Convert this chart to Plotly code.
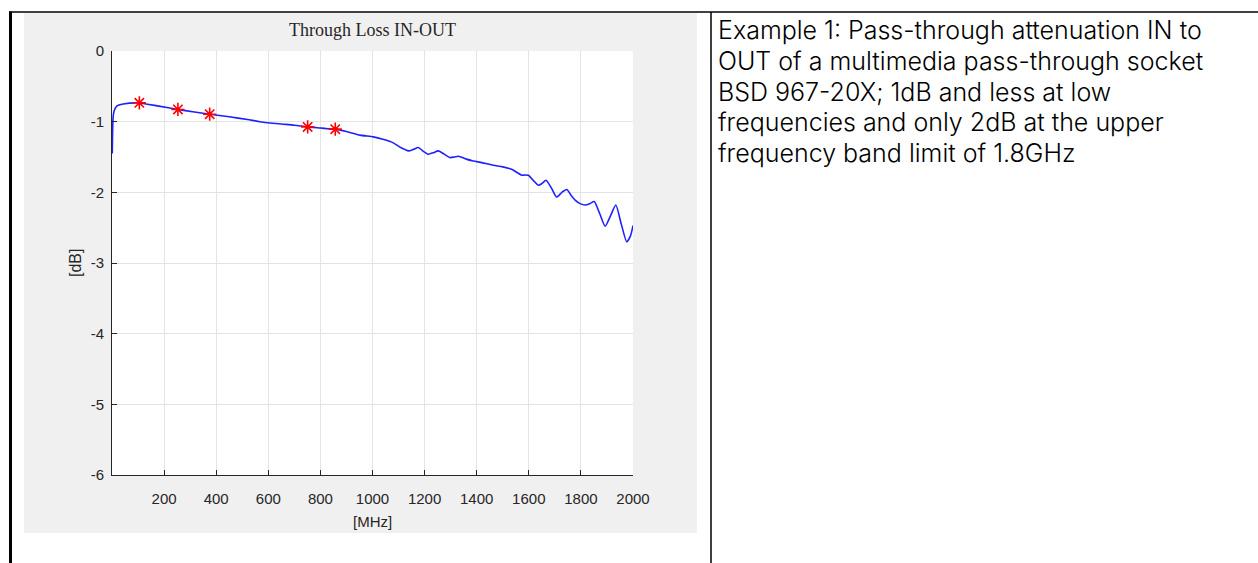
import plotly.graph_objects as go

# ---------------- data ----------------
freq_mhz = [1, 2, 4, 8, 18, 43, 105, 180, 253, 310, 375, 450, 520, 568, 640, 700, 751,
            800, 830, 857, 900, 952, 1003, 1040, 1080, 1110, 1138, 1158, 1176, 1195, 1214,
            1233, 1253, 1275, 1298, 1315, 1330, 1360, 1387, 1420, 1464, 1500, 1534, 1555,
            1573, 1585, 1598, 1617, 1637, 1652, 1666, 1687, 1707, 1727, 1746, 1762, 1778,
            1797, 1816, 1834, 1851, 1872, 1893, 1914, 1934, 1955, 1976, 1990, 2000]
loss_db = [-1.45, -1.20, -0.95, -0.85, -0.78, -0.75, -0.735, -0.78, -0.827, -0.86, -0.894,
           -0.93, -0.97, -1.00, -1.03, -1.05, -1.074, -1.09, -1.10, -1.106, -1.14, -1.19,
           -1.215, -1.25, -1.30, -1.37, -1.414, -1.39, -1.366, -1.42, -1.46, -1.44, -1.414,
           -1.46, -1.508, -1.50, -1.49, -1.53, -1.556, -1.58, -1.617, -1.64, -1.674, -1.72,
           -1.759, -1.755, -1.759, -1.83, -1.90, -1.87, -1.83, -1.94, -2.066, -2.00, -1.96,
           -2.04, -2.11, -2.16, -2.18, -2.16, -2.13, -2.30, -2.48, -2.33, -2.18, -2.45,
           -2.70, -2.62, -2.47]

marker_mhz = [105, 253, 375, 751, 857]
marker_db = [-0.733, -0.827, -0.894, -1.074, -1.106]

x_ticks = [200, 400, 600, 800, 1000, 1200, 1400, 1600, 1800, 2000]
y_ticks = [0, -1, -2, -3, -4, -5, -6]

title_text = "Through Loss IN-OUT"
x_label = "[MHz]"
y_label = "[dB]"
caption_lines = [
    "Example 1: Pass-through attenuation IN to",
    "OUT of a multimedia pass-through socket",
    "BSD 967-20X; 1dB and less at low",
    "frequencies and only 2dB at the upper",
    "frequency band limit of 1.8GHz",
]

# ---------------- layout geometry (pixels) ----------------
W, H = 1258, 563
PL, PR, PT, PB = 112, 633, 51, 475   # plot area edges


def px2x(px):
    return (px - PL) / (PR - PL)


def px2y(py):
    return (PB - py) / (PB - PT)


fig = go.Figure()

fig.add_trace(go.Scatter(
    x=freq_mhz, y=loss_db, mode="lines",
    line=dict(color="#2020ff", width=1.6, shape="spline", smoothing=0.6),
    showlegend=False, hoverinfo="skip"))

fig.add_trace(go.Scatter(
    x=marker_mhz, y=marker_db, mode="markers",
    marker=dict(symbol="asterisk-open", size=11, color="#ff0000",
                line=dict(color="#ff0000", width=1.6)),
    showlegend=False, hoverinfo="skip"))

shapes = [
    # grey figure background
    dict(type="rect", xref="paper", yref="paper", layer="below",
         x0=px2x(24), x1=px2x(697), y0=px2y(533), y1=px2y(13),
         fillcolor="#f0f0f0", line=dict(width=0)),
    # white axes background
    dict(type="rect", xref="paper", yref="paper", layer="below",
         x0=0, x1=1, y0=0, y1=1, fillcolor="#ffffff", line=dict(width=0)),
    # table borders
    dict(type="line", xref="paper", yref="paper", layer="above",
         x0=px2x(9), x1=px2x(W + 5), y0=px2y(12), y1=px2y(12),
         line=dict(color="#000000", width=1.5)),
    dict(type="line", xref="paper", yref="paper", layer="above",
         x0=px2x(10.5), x1=px2x(10.5), y0=px2y(11.5), y1=px2y(H + 5),
         line=dict(color="#000000", width=3)),
    dict(type="line", xref="paper", yref="paper", layer="above",
         x0=px2x(711), x1=px2x(711), y0=px2y(12), y1=px2y(H + 5),
         line=dict(color="#000000", width=1.5)),
]

annotations = [
    dict(text=title_text, xref="paper", yref="paper", x=0.5, y=px2y(30),
         xanchor="center", yanchor="middle", showarrow=False,
         font=dict(family="Liberation Serif", size=18, color="#262626")),
    dict(text=x_label, xref="paper", yref="paper", x=0.5, y=px2y(521),
         xanchor="center", yanchor="middle", showarrow=False,
         font=dict(family="Liberation Sans", size=15, color="#262626")),
    dict(text=y_label, xref="paper", yref="paper", x=px2x(75), y=0.5,
         xanchor="center", yanchor="middle", showarrow=False, textangle=-90,
         font=dict(family="Liberation Sans", size=16, color="#262626")),
]

line_y = [30, 61, 91.5, 122, 153]
for txt, yy in zip(caption_lines, line_y):
    annotations.append(dict(
        text=txt, xref="paper", yref="paper", x=px2x(717), y=px2y(yy),
        xanchor="left", yanchor="middle", showarrow=False, borderpad=0,
        font=dict(family="Inter", size=25, weight=300, color="#000000")))

tick_font = dict(family="Liberation Sans", size=15, color="#262626")

fig.update_layout(
    width=W, height=H,
    margin=dict(l=PL, r=W - PR, t=PT, b=H - PB, pad=0),
    paper_bgcolor="#ffffff", plot_bgcolor="#ffffff",
    shapes=shapes, annotations=annotations,
    showlegend=False,
    xaxis=dict(range=[0, 2000], tickvals=x_ticks, ticktext=[str(v) for v in x_ticks],
               showgrid=True, gridcolor="#e3e3e3", gridwidth=1,
               showline=True, linecolor="#262626", linewidth=1,
               ticks="inside", ticklen=5, tickcolor="#262626",
               ticklabelstandoff=10, tickfont=tick_font,
               zeroline=False, mirror=False, fixedrange=True),
    yaxis=dict(range=[-6, 0], tickvals=y_ticks, ticktext=[str(v) for v in y_ticks],
               showgrid=True, gridcolor="#e3e3e3", gridwidth=1,
               showline=True, linecolor="#262626", linewidth=1,
               ticks="inside", ticklen=5, tickcolor="#262626",
               ticklabelstandoff=4, tickfont=tick_font,
               zeroline=False, mirror=False, fixedrange=True),
)

fig.write_html("out.html", config={"displayModeBar": False})
